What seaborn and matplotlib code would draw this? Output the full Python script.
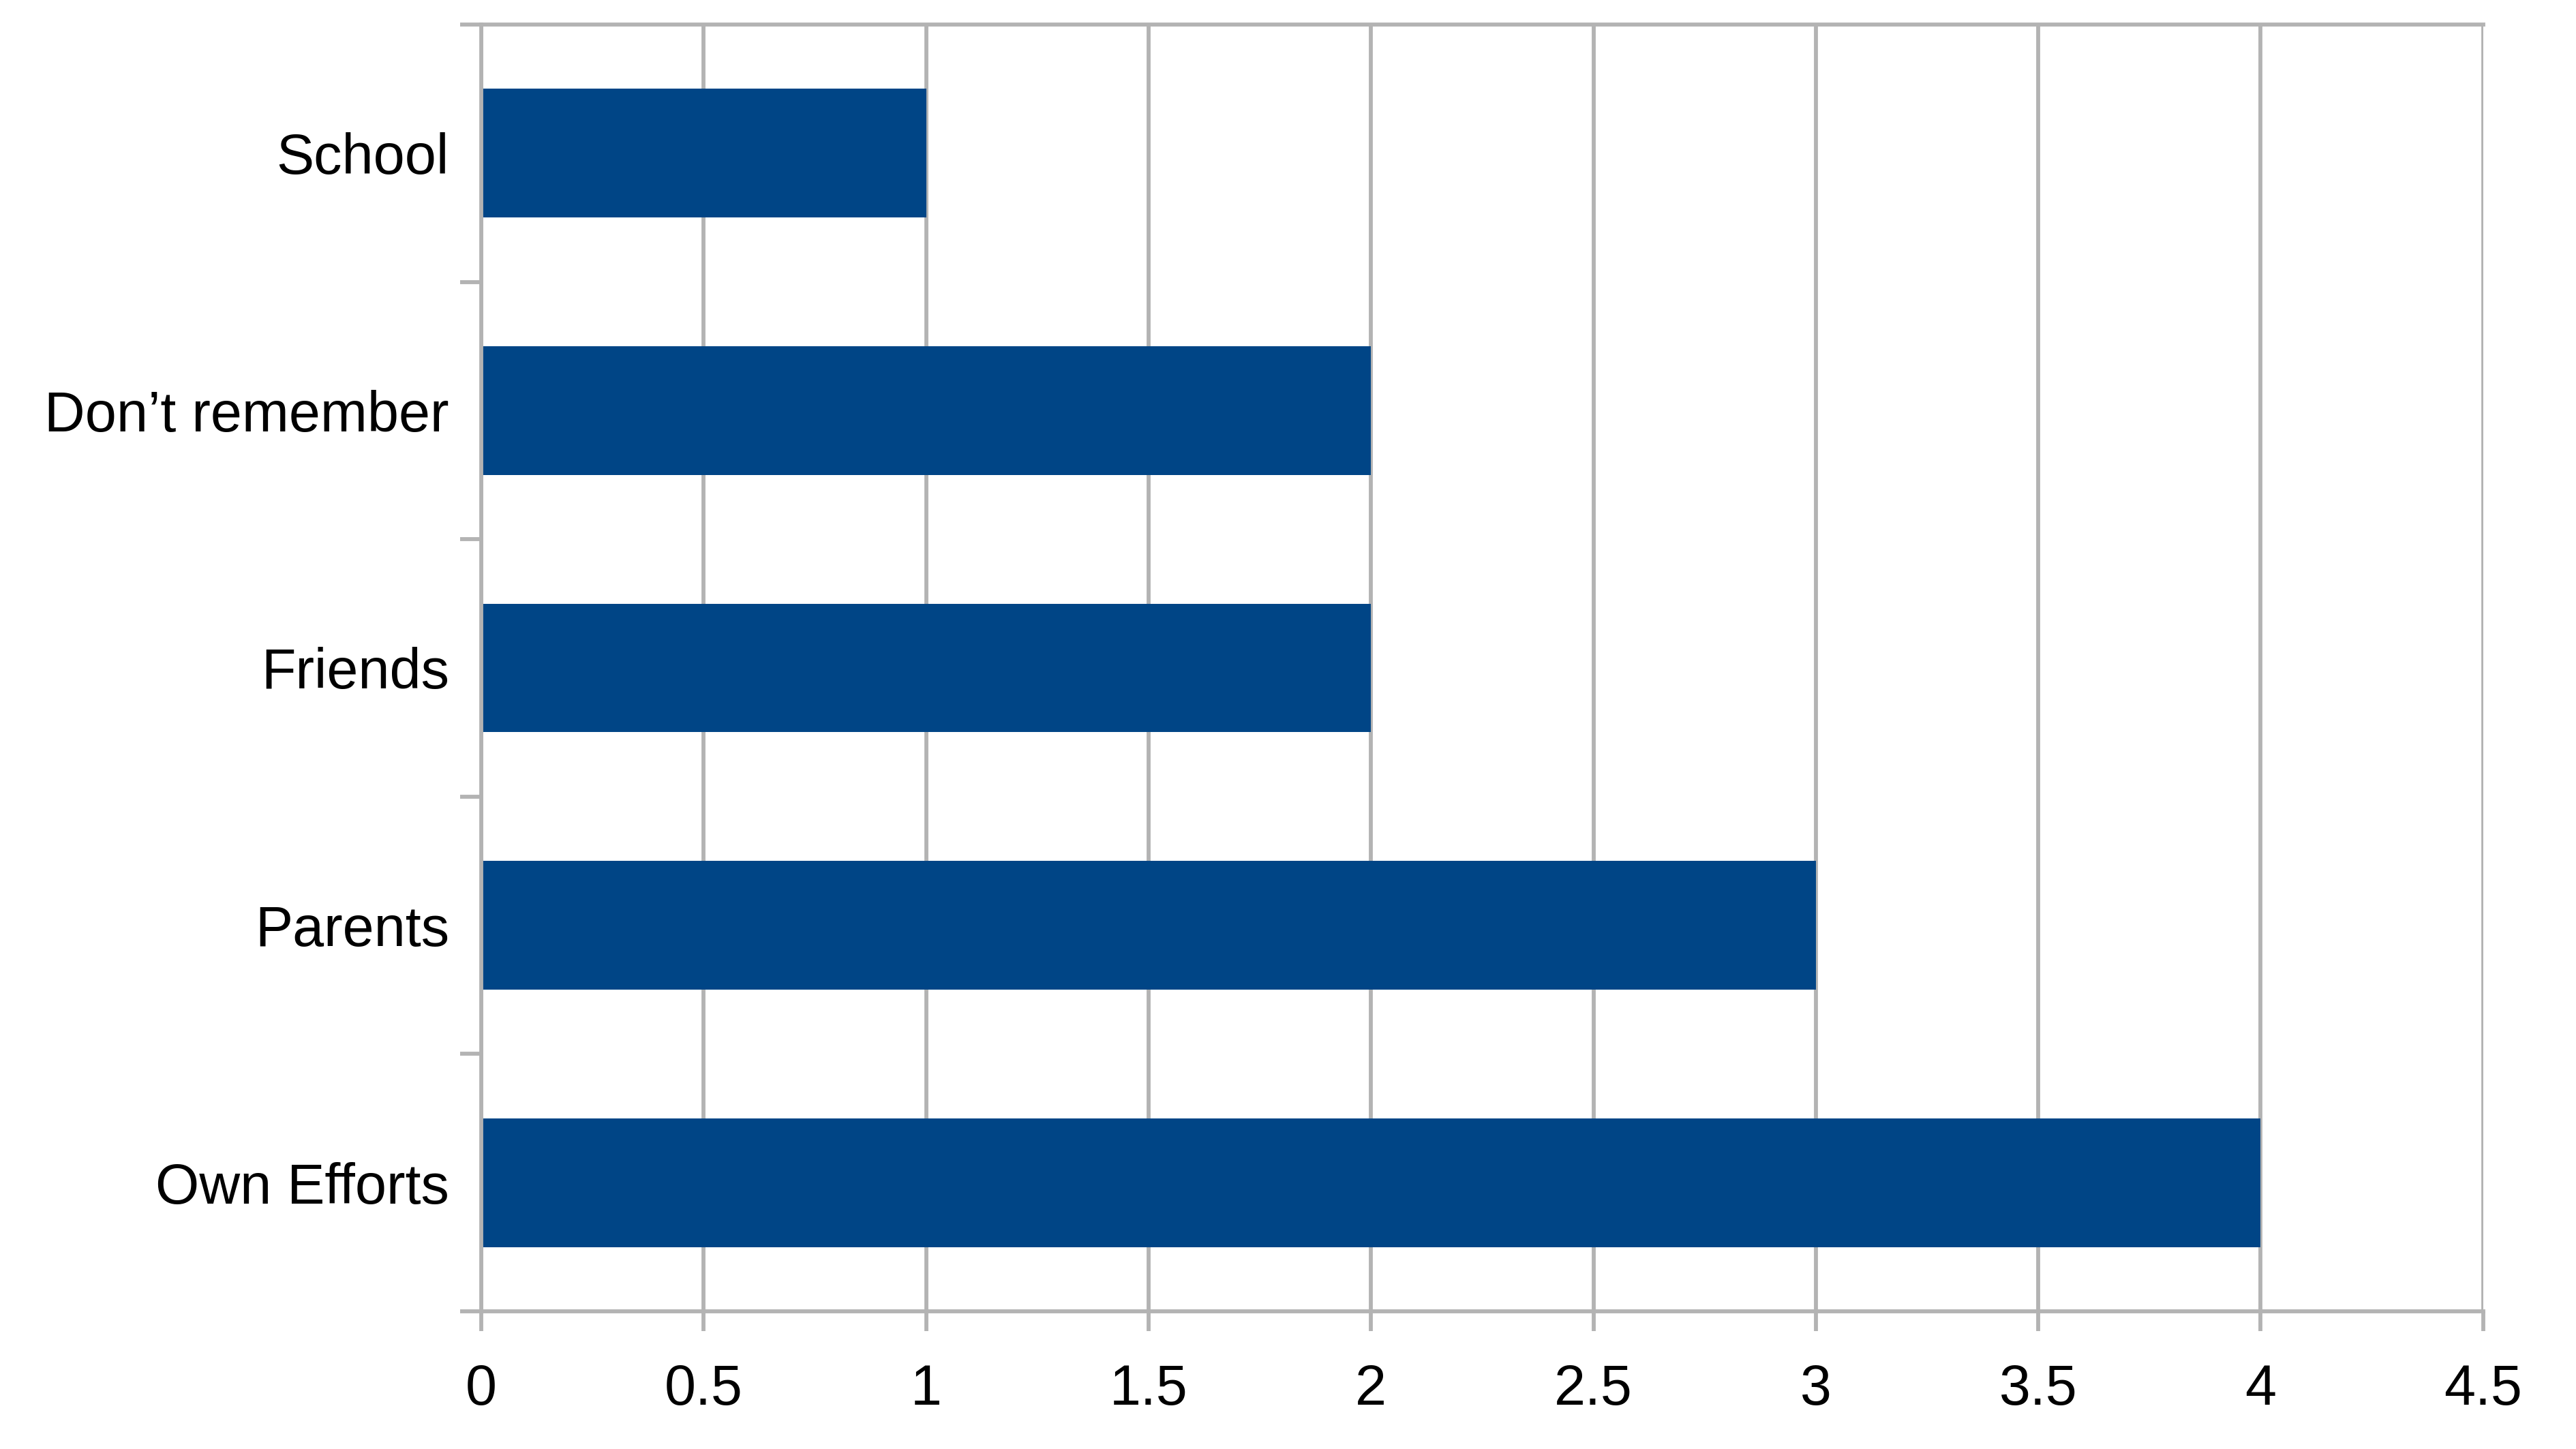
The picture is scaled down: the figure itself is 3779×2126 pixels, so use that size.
import matplotlib
matplotlib.use("Agg")
import matplotlib.pyplot as plt
import seaborn as sns
import pandas as pd
import numpy as np
from matplotlib.ticker import FixedLocator

categories = ["School", "Don\u2019t remember", "Friends", "Parents", "Own Efforts"]
values = [1, 2, 2, 3, 4]
x_ticks = [0, 0.5, 1, 1.5, 2, 2.5, 3, 3.5, 4, 4.5]
x_tick_labels = ["0", "0.5", "1", "1.5", "2", "2.5", "3", "3.5", "4", "4.5"]

sns.set_theme(style="white")
plt.rcParams['font.family'] = ['Liberation Sans', 'DejaVu Sans']

GRID = "#b3b3b3"
BAR = "#004586"
LW = 2.1

df = pd.DataFrame({"category": categories, "value": values})

fig = plt.figure(figsize=(18.9, 10.63), dpi=200)
ax = fig.add_axes([0.1868, 0.095, 0.9637 - 0.1868, 0.9831 - 0.095])

sns.barplot(data=df, x="value", y="category", order=categories, orient="h",
            color=BAR, saturation=1, width=0.5, ax=ax, linewidth=0)

ax.set_xlim(0, 4.5)
ax.set_ylim(len(categories) - 0.5, -0.5)
ax.set_xticks(x_ticks)
ax.set_xticklabels(x_tick_labels)
ax.xaxis.grid(True, color=GRID, linewidth=LW)
ax.yaxis.grid(False)
ax.set_axisbelow(True)

# y: labels at centers with no tick mark; ticks at band boundaries
ax.yaxis.set_minor_locator(FixedLocator(np.arange(-0.5, len(categories), 1.0)))
ax.tick_params(axis="y", which="major", length=0, pad=17, labelsize=29.8, labelcolor="black")
ax.tick_params(axis="y", which="minor", length=11, width=LW, color=GRID, direction="out", left=True)
ax.tick_params(axis="x", which="major", length=10.5, width=LW, color=GRID, direction="out",
               bottom=True, pad=17, labelsize=29.8, labelcolor="black")

for side in ["top", "bottom", "left"]:
    ax.spines[side].set_visible(True)
    ax.spines[side].set_color(GRID)
    ax.spines[side].set_linewidth(LW)
ax.spines["right"].set_visible(False)

ax.set_xlabel("")
ax.set_ylabel("")

fig.savefig("out.png", dpi=200, facecolor="white")
